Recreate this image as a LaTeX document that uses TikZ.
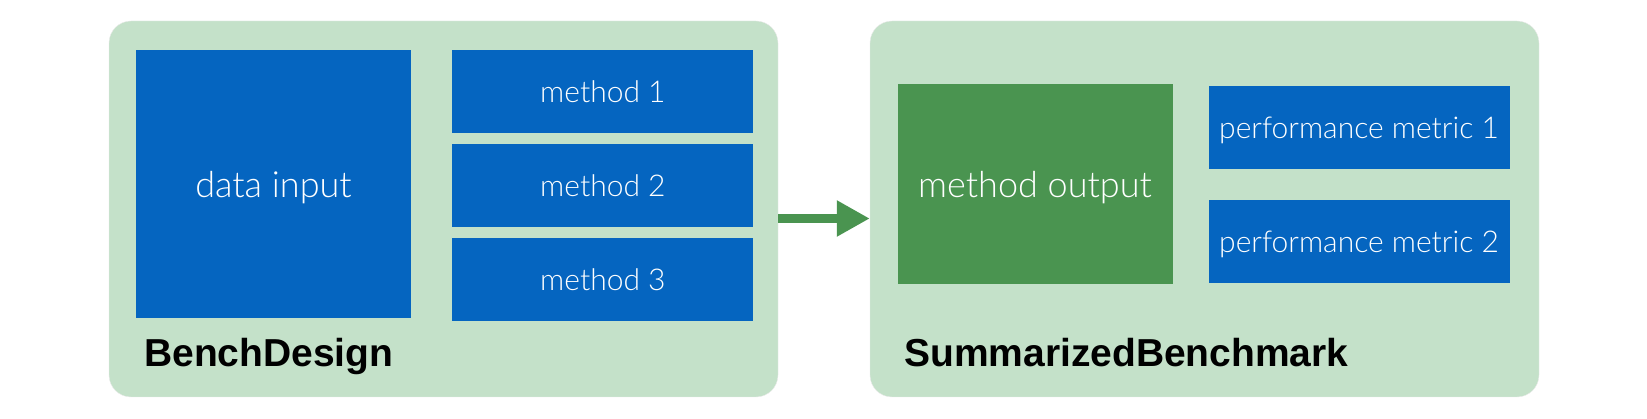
\documentclass[tikz,border=0pt]{standalone}
\usepackage{fontspec}
\setmainfont{Liberation Sans}
\newfontfamily\lightfont{Lato Light}
\usepackage{tikz}
\usetikzlibrary{arrows.meta, positioning}
\definecolor{panelgreen}{RGB}{196, 225, 201}
\definecolor{boxblue}{RGB}{5, 101, 192}
\definecolor{outgreen}{RGB}{74, 148, 80}

\begin{document}
\begin{tikzpicture}[x=1pt, y=-1pt,
    node distance=10.5pt and 41pt,
    panel/.style={rectangle, rounded corners=22pt, fill=panelgreen, draw=black!8, minimum width=669pt, minimum height=376pt, inner sep=0pt},
    block/.style={rectangle, fill=boxblue, text=white, inner sep=0pt, align=center, text height=22pt, text depth=0pt, font=\lightfont\fontsize{30}{34}\selectfont},
    methodbox/.style={block, minimum width=301pt, minimum height=83pt},
    bigbox/.style={block, minimum width=275pt, text height=26.5pt, font=\lightfont\fontsize{36}{42}\selectfont},
    title/.style={anchor=base west, inner sep=0pt, font=\bfseries\fontsize{39}{47}\selectfont},
    arrow/.style={-{Triangle[length=33pt, width=34pt]}, line width=9pt, outgreen}
]
\useasboundingbox (0,0) rectangle (1647,419);
\node[panel] (bench) at (443.5,209) {};
\node[panel] (summ) at (1204.5,209) {};
% BenchDesign
\node[bigbox, minimum height=268pt] (input) at (273.5,184) {data input};
\node[methodbox, anchor=north west] (m1) at ([xshift=41pt]input.north east) {method 1};
\node[methodbox, below=of m1] (m2) {method 2};
\node[methodbox, below=of m2] (m3) {method 3};
\node[title] (benchlabel) at (144,367) {BenchDesign};
% SummarizedBenchmark
\node[bigbox, fill=outgreen, minimum height=200pt] (output) at (1035,184) {method output};
\node[methodbox] (pm1) at (1359,127.5) {performance metric 1};
\node[methodbox, below=31pt of pm1] (pm2) {performance metric 2};
\node[title] (summlabel) at (904,367) {SummarizedBenchmark};
\draw[arrow] ([yshift=-9.5pt]bench.east) -- ([yshift=-9.5pt]summ.west);
\end{tikzpicture}
\end{document}
